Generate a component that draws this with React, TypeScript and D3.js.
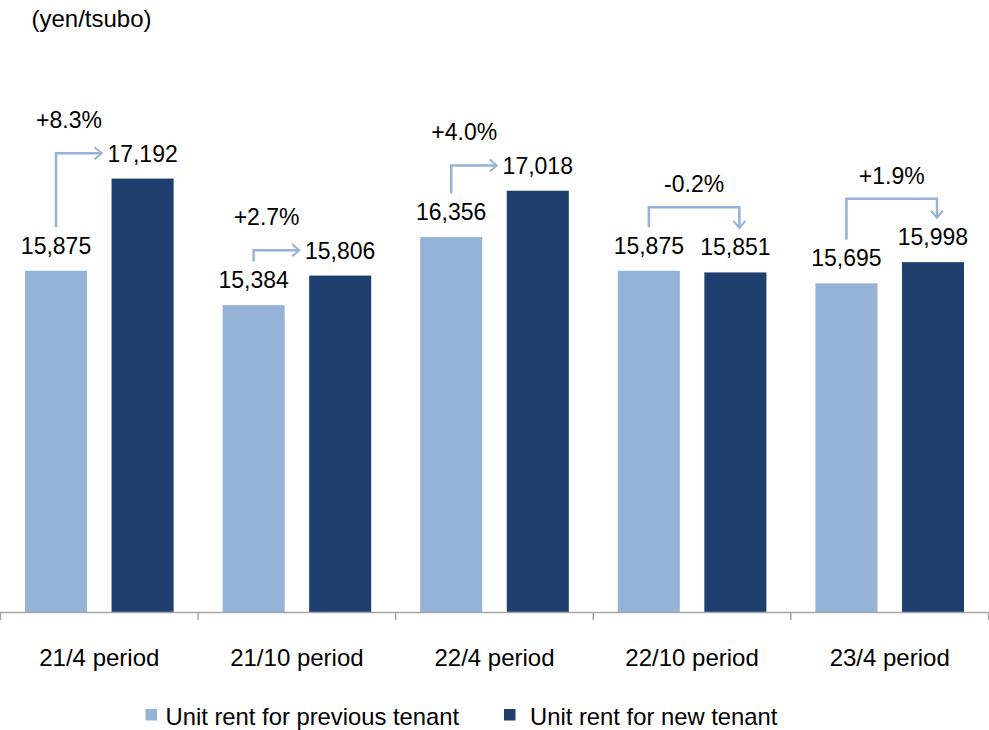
import React from "react";
import * as d3 from "d3";

// Unit rents (yen/tsubo) per fiscal period
const categories: string[] = ["21/4 period", "21/10 period", "22/4 period", "22/10 period", "23/4 period"];
const previousRent: number[] = [15875, 15384, 16356, 15875, 15695];
const newRent: number[] = [17192, 15806, 17018, 15851, 15998];
const changeLabels: string[] = ["+8.3%", "+2.7%", "+4.0%", "-0.2%", "+1.9%"];
// "elbow": up from the previous-rent label, then across to the new-rent label
// "bracket": up, across and down onto the new-rent label
const changeStyles: string[] = ["elbow", "elbow", "elbow", "bracket", "bracket"];
const seriesNames: string[] = ["Unit rent for previous tenant", "Unit rent for new tenant"];
const unitLabel = "(yen/tsubo)";

const W = 989;
const H = 730;
const LIGHT = "#95B3D7";
const DARK = "#1F3F6E";
const ARROW = "#95B3D7";
const FONT = "'Liberation Sans', Arial, sans-serif";

export default function App() {
  const x = d3.scaleBand<string>().domain(categories).range([0.5, 988.5]).padding(0);
  const inner = d3
    .scaleBand<string>()
    .domain(["prev", "new"])
    .range([0, x.bandwidth()])
    .paddingInner(0.283)
    .paddingOuter(0.283);
  const y = d3.scaleLinear().domain([11000, 18000]).range([612, 122]);
  const baseY = y(11000);

  const labelGap = 17; // label baseline above bar top
  const digitH = 16.5;

  const rows = categories.map((c, i) => {
    const x0 = x(c)!;
    const px = x0 + inner("prev")!;
    const nx = x0 + inner("new")!;
    const bw = inner.bandwidth();
    return {
      c,
      i,
      px,
      nx,
      bw,
      pcx: px + bw / 2,
      ncx: nx + bw / 2,
      py: y(previousRent[i]),
      ny: y(newRent[i]),
    };
  });

  const arrowPath = (r: (typeof rows)[number]) => {
    const prevLabelTop = r.py - labelGap - digitH;
    const newLabelTop = r.ny - labelGap - digitH;
    if (changeStyles[r.i] === "elbow") {
      const x1 = r.pcx;
      const yStart = prevLabelTop - 10;
      const yMid = r.ny - labelGap - digitH / 2;
      const tip = r.ncx - 41;
      const line = d3.path();
      line.moveTo(x1, yStart);
      line.lineTo(x1, yMid);
      line.lineTo(tip, yMid);
      const head = d3.path();
      head.moveTo(tip - 7, yMid - 6);
      head.lineTo(tip, yMid);
      head.lineTo(tip - 7, yMid + 6);
      return {
        line: line.toString(),
        head: head.toString(),
        tx: x1 + 13,
        ty: yMid - 25,
      };
    }
    const xl = r.pcx;
    const xr = r.ncx + 4;
    const top = Math.min(prevLabelTop, newLabelTop) - 30;
    const yl = prevLabelTop - 10;
    const tipY = newLabelTop - 11;
    const line = d3.path();
    line.moveTo(xl, yl);
    line.lineTo(xl, top);
    line.lineTo(xr, top);
    line.lineTo(xr, tipY);
    const head = d3.path();
    head.moveTo(xr - 6, tipY - 7);
    head.lineTo(xr, tipY);
    head.lineTo(xr + 6, tipY - 7);
    return {
      line: line.toString(),
      head: head.toString(),
      tx: (xl + xr) / 2,
      ty: top - 15,
    };
  };

  const tickXs = [...categories.map((c) => x(c)!), x(categories[categories.length - 1])! + x.bandwidth()];

  return (
    <svg
      width={W}
      height={H}
      viewBox={`0 0 ${W} ${H}`}
      style={{ position: "fixed", left: 0, top: 0, background: "#fff" }}
      fontFamily={FONT}
    >
      <rect x={0} y={0} width={W} height={H} fill="#fff" />
      <text x={31.5} y={27} fontSize={24} fill="#000">
        {unitLabel}
      </text>

      {rows.map((r) => (
        <g key={r.c}>
          <rect x={r.px} y={r.py} width={r.bw} height={baseY - r.py} fill={LIGHT} />
          <rect x={r.nx} y={r.ny} width={r.bw} height={baseY - r.ny} fill={DARK} />
          <text x={r.pcx} y={r.py - labelGap} fontSize={23} textAnchor="middle" fill="#000">
            {d3.format(",")(previousRent[r.i])}
          </text>
          <text x={r.ncx} y={r.ny - labelGap} fontSize={23} textAnchor="middle" fill="#000">
            {d3.format(",")(newRent[r.i])}
          </text>
        </g>
      ))}

      {rows.map((r) => {
        const a = arrowPath(r);
        return (
          <g key={`arrow-${r.c}`}>
            <path d={a.line} fill="none" stroke={ARROW} strokeWidth={2.5} />
            <path d={a.head} fill="none" stroke={ARROW} strokeWidth={2} />
            <text x={a.tx} y={a.ty} fontSize={23} textAnchor="middle" fill="#000">
              {changeLabels[r.i]}
            </text>
          </g>
        );
      })}

      {/* category axis */}
      <line x1={0} x2={W} y1={612.5} y2={612.5} stroke="#A6A6A6" strokeWidth={1.5} />
      {tickXs.map((t, k) => (
        <line key={k} x1={t} x2={t} y1={612.5} y2={620} stroke="#A6A6A6" strokeWidth={1.5} />
      ))}
      {categories.map((c) => (
        <text key={c} x={x(c)! + x.bandwidth() / 2} y={666} fontSize={24} textAnchor="middle" fill="#000">
          {c}
        </text>
      ))}

      {/* legend */}
      <rect x={145.5} y={709} width={11.5} height={11.5} fill={LIGHT} />
      <text x={165.5} y={724.5} fontSize={23.8} fill="#000">
        {seriesNames[0]}
      </text>
      <rect x={504} y={709} width={11.5} height={11.5} fill={DARK} />
      <text x={530} y={724.5} fontSize={23.8} fill="#000">
        {seriesNames[1]}
      </text>
    </svg>
  );
}
